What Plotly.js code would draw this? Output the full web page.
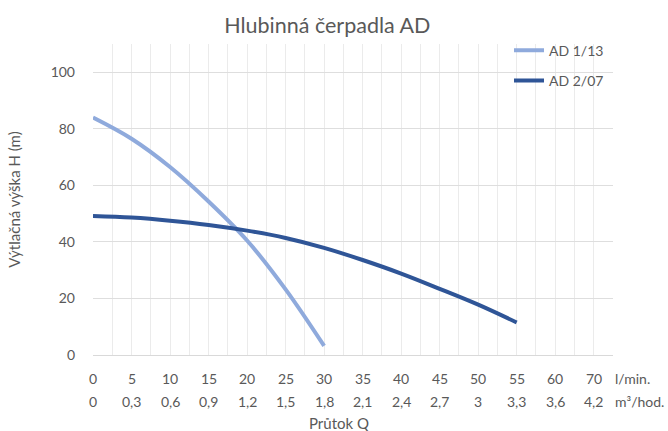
<!DOCTYPE html>
<html>
<head>
<meta charset="utf-8">
<script src="https://cdn.plot.ly/plotly-3.0.1.min.js"></script>
<style>html,body{margin:0;padding:0;background:#fff;}#chart{width:668px;height:431px;}</style>
</head>
<body>
<div id="chart"></div>
<script>
// Data
const flowAD113 = [0, 5, 10, 15, 20, 25, 30];
const headAD113 = [84, 76.5, 66.5, 54.3, 40.5, 23.2, 3.2];
const flowAD207 = [0, 5, 10, 15, 20, 25, 30, 35, 40, 45, 50, 55];
const headAD207 = [49.2, 48.6, 47.5, 46, 44, 41.4, 37.9, 33.6, 28.8, 23.4, 17.8, 11.5];
const tickPos = [0, 5, 10, 15, 20, 25, 30, 35, 40, 45, 50, 55, 60, 65];
const tickLpm = ["0", "5", "10", "15", "20", "25", "30", "35", "40", "45", "50", "55", "60", "70"];
const tickM3h = ["0", "0,3", "0,6", "0,9", "1,2", "1,5", "1,8", "2,1", "2,4", "2,7", "3", "3,3", "3,6", "4,2"];

const FONT = "Lato, 'Open Sans', sans-serif";
const GRAY = "#595959";

const traces = [
  {x: flowAD113, y: headAD113, name: "AD 1/13", type: "scatter", mode: "lines",
   line: {color: "#8FAADC", width: 4, shape: "spline"}, legendgroup: "a"},
  {x: flowAD207, y: headAD207, name: "AD 2/07", type: "scatter", mode: "lines",
   line: {color: "#2F5597", width: 4, shape: "spline"}, legendgroup: "b"}
];

const annotations = [];
tickPos.forEach((p, i) => {
  annotations.push({x: p, y: 0, xref: "x", yref: "paper", yanchor: "middle", xanchor: "center",
    yshift: -23, text: tickLpm[i], showarrow: false, font: {family: FONT, size: 14, color: GRAY}});
  annotations.push({x: p, y: 0, xref: "x", yref: "paper", yanchor: "middle", xanchor: "center",
    yshift: -46, text: tickM3h[i], showarrow: false, font: {family: FONT, size: 14, color: GRAY}});
});
annotations.push({x: 1, y: 0, xref: "paper", yref: "paper", xanchor: "left", yanchor: "middle",
  xshift: 0, yshift: -23, text: "l/min.", showarrow: false, font: {family: FONT, size: 14, color: GRAY}});
annotations.push({x: 1, y: 0, xref: "paper", yref: "paper", xanchor: "left", yanchor: "middle",
  xshift: 0, yshift: -46, text: "m³/hod.", showarrow: false, font: {family: FONT, size: 14, color: GRAY}});
annotations.push({x: 0.473, y: 0, xref: "paper", yref: "paper", xanchor: "center", yanchor: "middle",
  yshift: -68, text: "Průtok Q", showarrow: false, font: {family: FONT, size: 15, color: GRAY}});

const layout = {
  width: 668, height: 431,
  margin: {l: 93, r: 55, t: 44, b: 76},
  paper_bgcolor: "#fff", plot_bgcolor: "#fff",
  title: {text: "Hlubinná čerpadla AD", x: 0.49, xanchor: "center", y: 0.94, yanchor: "middle",
    font: {family: FONT, size: 21.5, color: GRAY}},
  xaxis: {range: [0, 67.5], dtick: 2.5, tick0: 0, showticklabels: false, showgrid: true,
    gridcolor: "#ebebeb", gridwidth: 1, zeroline: false, showline: false, ticks: "", fixedrange: true},
  yaxis: {range: [0, 110], dtick: 20, tick0: 0, showgrid: true, gridcolor: "#dedede", gridwidth: 1,
    zeroline: true, zerolinecolor: "#d9d9d9", zerolinewidth: 1, showline: false, ticks: "",
    ticklabelstandoff: 17,
    tickfont: {family: FONT, size: 14, color: GRAY},
    title: {text: "Výtlačná výška H (m)", standoff: 26, font: {family: FONT, size: 15, color: GRAY}}},
  showlegend: true,
  legend: {x: 0.8, y: 1.03, xanchor: "left", yanchor: "top", bgcolor: "rgba(0,0,0,0)",
    tracegroupgap: 9, font: {family: FONT, size: 14, color: GRAY}},
  annotations: annotations
};

Plotly.newPlot("chart", traces, layout, {staticPlot: true, displayModeBar: false});
</script>
</body>
</html>
